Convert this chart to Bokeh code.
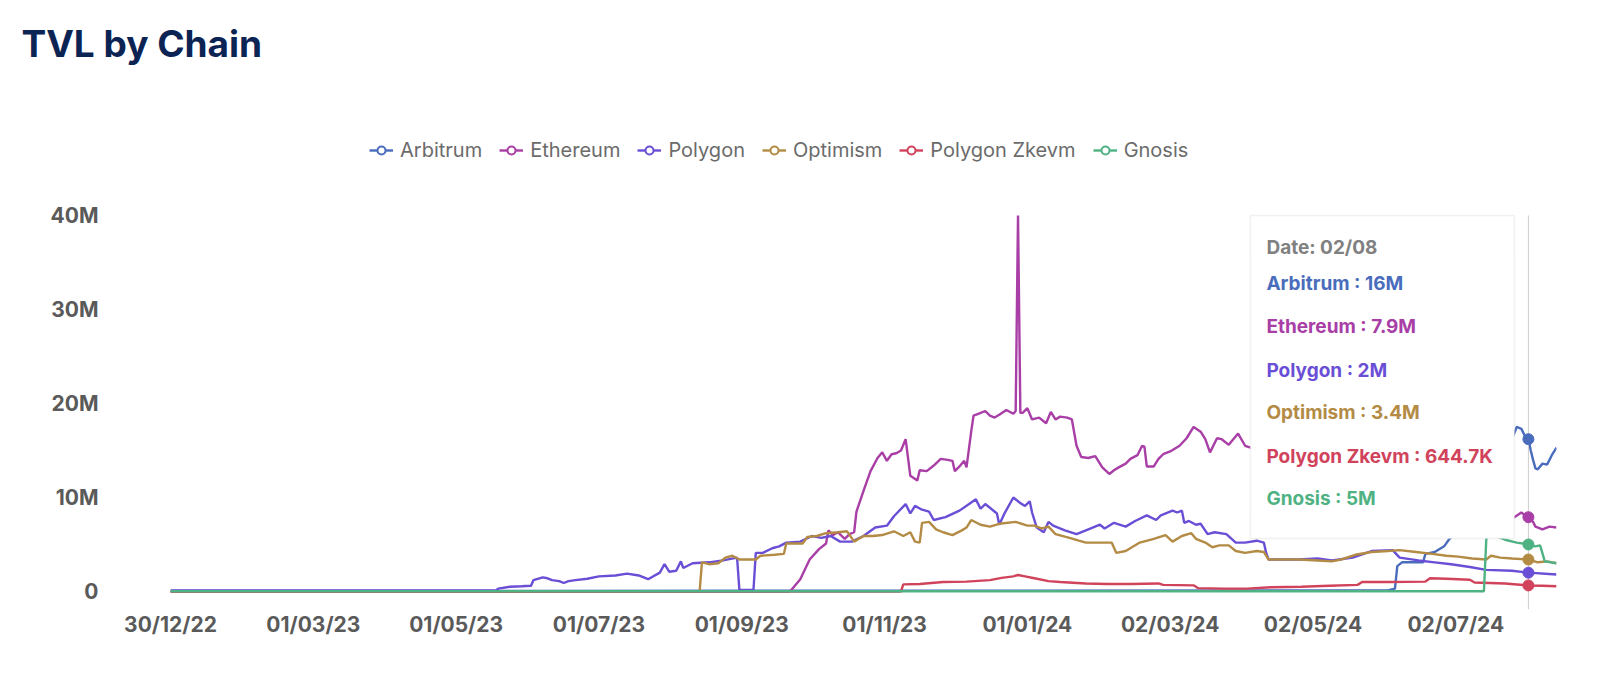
import numpy as np
from bokeh.plotting import figure
from bokeh.models import (FixedTicker, Legend, LegendItem, BoxAnnotation, Label, Range1d)
from bokeh.embed import file_html
from bokeh.resources import INLINE

# ---------------- data (x = day index from 30/12/22, y = TVL in millions) -------------
TICK_IDX = [0, 61, 122, 183, 244, 305, 366, 427, 488, 549]
TICK_LABELS = ["30/12/22", "01/03/23", "01/05/23", "01/07/23", "01/09/23",
               "01/11/23", "01/01/24", "02/03/24", "02/05/24", "02/07/24"]
Y_TICKS = [0, 10, 20, 30, 40]
Y_LABELS = ["0", "10M", "20M", "30M", "40M"]

SERIES = ["Arbitrum", "Ethereum", "Polygon", "Optimism", "Polygon Zkevm", "Gnosis"]
COLORS = ["#4a6cbc", "#a83ea6", "#6a4fd6", "#b38b45", "#d1435b", "#4fb283"]

ARB_X = [0, 520, 523, 524, 526, 535, 536, 540, 544, 546, 548, 552, 556, 560, 564, 568,
         572, 575, 577, 579, 580, 581, 582, 583, 584, 586, 588, 590, 592]
ARB_Y = [0.05, 0.1, 0.3, 2.7, 3.1, 3.1, 4.0, 4.2, 4.8, 5.5, 6.0, 7.0, 9.5, 12.0, 13.5, 15.0,
         15.6, 17.5, 17.3, 16.3, 16.2, 15.0, 14.0, 13.1, 13.0, 13.6, 13.5, 14.5, 15.3]

ETH_X = [0, 264, 265, 269, 273, 277, 280, 281, 283, 285, 288, 290, 292, 293, 296, 299, 302,
         304, 306, 308, 310, 312, 314, 316, 319, 320, 323, 326, 329, 332, 334, 335, 337, 339,
         340, 342, 343, 345, 348, 350, 352, 354, 357, 360, 361, 362, 363, 364, 366, 368, 371,
         374, 376, 378, 380, 383, 385, 387, 389, 392, 395, 398, 401, 403, 405, 408, 410, 413,
         415, 416, 417, 420, 422, 424, 427, 431, 434, 437, 440, 442, 444, 447, 449, 452, 456,
         459, 465, 475, 490, 505, 520, 535, 550, 565, 572, 574, 577, 578, 580, 582, 583, 586,
         589, 592]
ETH_Y = [0, 0, 0.1, 1.3, 3.4, 4.5, 5.1, 6.5, 6.0, 6.3, 5.6, 6.1, 6.3, 8.5, 10.7, 12.8, 14.2,
         14.8, 13.9, 14.6, 14.7, 15.0, 16.2, 12.3, 11.8, 12.9, 12.8, 13.4, 14.1, 14.0, 13.9, 12.8,
         13.3, 13.9, 13.2, 17.0, 18.7, 18.9, 19.2, 18.7, 18.5, 18.8, 19.3, 18.9, 19.2, 40.0, 19.0,
         19.0, 19.5, 18.3, 18.5, 17.9, 19.1, 18.3, 18.6, 18.5, 18.3, 15.5, 14.3, 14.2, 14.4, 13.2,
         12.5, 12.9, 13.2, 13.6, 14.1, 14.5, 15.5, 15.4, 13.3, 13.3, 14.1, 14.6, 14.9, 15.5, 16.3,
         17.5, 17.0, 16.2, 14.8, 16.3, 16.2, 15.6, 16.8, 15.5, 15.0, 14.5, 13.0, 12.0, 11.0, 10.0,
         9.0, 8.2, 7.9, 7.9, 8.4, 8.2, 7.9, 7.4, 6.9, 6.6, 6.9, 6.8]

POLY_X = [0, 139, 140, 145, 150, 154, 155, 159, 161, 163, 166, 168, 170, 173, 178, 183, 190,
          195, 200, 204, 209, 211, 213, 216, 218, 219, 223, 230, 236, 242, 243, 249, 250, 253,
          257, 260, 263, 269, 274, 278, 282, 286, 291, 296, 301, 306, 309, 314, 316, 318, 321,
          324, 326, 331, 337, 344, 346, 348, 353, 354, 356, 360, 363, 365, 367, 368, 370, 373,
          375, 377, 382, 387, 391, 397, 399, 403, 408, 412, 417, 421, 423, 428, 430, 432, 433,
          435, 438, 440, 443, 446, 451, 455, 459, 464, 467, 468, 469, 482, 490, 496, 505, 513,
          522, 525, 533, 540, 547, 555, 562, 573, 580, 592]
POLY_Y = [0.12, 0.1, 0.3, 0.5, 0.55, 0.6, 1.2, 1.5, 1.4, 1.2, 1.1, 0.9, 1.1, 1.2, 1.35, 1.6,
          1.7, 1.9, 1.7, 1.3, 2.0, 2.9, 2.1, 2.2, 3.2, 2.5, 3.0, 3.1, 3.3, 3.6, 0.15, 0.15, 4.1,
          4.1, 4.6, 4.8, 5.2, 5.3, 5.9, 5.7, 5.9, 5.3, 5.3, 5.9, 6.8, 7.0, 8.0, 9.3, 8.3, 9.1,
          8.7, 8.5, 7.6, 7.9, 8.6, 9.8, 8.8, 9.3, 8.3, 7.1, 8.2, 10.0, 9.4, 9.1, 9.6, 8.4, 6.8,
          6.3, 7.4, 7.0, 6.5, 6.1, 6.5, 7.1, 6.7, 7.3, 6.9, 7.5, 8.1, 7.6, 8.1, 8.6, 8.4, 8.6,
          7.3, 7.5, 7.1, 7.2, 6.1, 6.3, 6.1, 5.2, 5.2, 5.4, 5.2, 4.1, 3.4, 3.4, 3.5, 3.3, 3.6,
          4.3, 4.4, 3.6, 3.3, 3.1, 2.9, 2.6, 2.3, 2.2, 2.0, 1.8]

OP_X = [0, 226, 227, 230, 234, 237, 240, 243, 250, 252, 258, 262, 263, 270, 272, 276, 280,
        285, 289, 292, 296, 300, 304, 309, 313, 316, 318, 320, 321, 324, 327, 330, 334, 338,
        340, 342, 346, 350, 354, 361, 366, 369, 372, 375, 378, 384, 388, 391, 397, 402, 404,
        408, 414, 420, 425, 428, 432, 436, 438, 442, 445, 448, 452, 455, 459, 464, 467, 469,
        482, 490, 496, 500, 506, 513, 520, 525, 532, 539, 545, 550, 556, 562, 564, 568, 573,
        580, 584, 588, 592]
OP_Y = [0, 0, 3.1, 2.9, 3.0, 3.6, 3.8, 3.4, 3.4, 3.8, 3.9, 4.0, 5.1, 5.1, 5.8, 5.9, 6.2,
        6.3, 6.4, 5.3, 5.9, 5.9, 6.0, 6.4, 5.9, 6.3, 5.3, 5.2, 7.3, 7.4, 6.6, 6.3, 6.0, 6.5,
        6.8, 7.6, 7.1, 6.9, 7.2, 7.4, 7.0, 7.0, 6.7, 6.9, 6.1, 5.7, 5.4, 5.2, 5.2, 5.2, 4.1,
        4.3, 5.2, 5.6, 6.0, 5.3, 5.9, 6.2, 5.6, 5.2, 4.7, 4.9, 4.9, 4.3, 4.1, 4.3, 4.2, 3.4,
        3.4, 3.3, 3.2, 3.4, 3.9, 4.2, 4.3, 4.4, 4.2, 4.0, 3.8, 3.7, 3.5, 3.4, 3.8, 3.6, 3.5,
        3.4, 3.1, 3.2, 3.0]

ZK_X = [0, 312, 313, 320, 330, 340, 350, 355, 360, 362, 365, 369, 375, 380, 391, 400, 410,
        422, 424, 437, 439, 450, 460, 470, 483, 495, 507, 509, 520, 536, 538, 545, 555, 557,
        570, 580, 586, 592]
ZK_Y = [0, 0, 0.75, 0.8, 1.0, 1.05, 1.2, 1.45, 1.6, 1.75, 1.6, 1.4, 1.1, 1.0, 0.85, 0.8, 0.8,
        0.85, 0.7, 0.65, 0.35, 0.3, 0.3, 0.45, 0.5, 0.6, 0.7, 1.0, 1.0, 1.05, 1.4, 1.35, 1.25,
        0.95, 0.85, 0.64, 0.6, 0.55]

GNO_X = [0, 561, 562, 563, 565, 570, 575, 580, 583, 585, 587, 592]
GNO_Y = [0.02, 0.02, 5.5, 6.5, 6.0, 5.5, 5.2, 5.0, 4.8, 4.9, 3.2, 3.0]

HOVER_IDX = 580
HOVER_DATE = "02/08"
TOOLTIP_VALUES = ["16M", "7.9M", "2M", "3.4M", "644.7K", "5M"]

XS = [ARB_X, ETH_X, POLY_X, OP_X, ZK_X, GNO_X]
YS = [ARB_Y, ETH_Y, POLY_Y, OP_Y, ZK_Y, GNO_Y]

# ---------------- figure geometry ----------------
W, H = 1584, 659
ML, MR, MT, MB = 170, 28, 70, 50
TOP40 = 215                     # canvas y of the 40M level
X0, X1 = 0, 592
Y0, Y40 = -1.92, 40
ppy = (H - MB - TOP40) / (Y40 - Y0)
Y_TOP = Y40 + (TOP40 - MT) / ppy  # frame extends above 40M to hold the legend
ppx = (W - ML - MR) / (X1 - X0)

FONT = "Inter"
p = figure(width=W, height=H, output_backend="svg", toolbar_location=None,
           x_range=Range1d(X0, X1), y_range=Range1d(Y0, Y_TOP),
           min_border_left=ML, min_border_right=MR, min_border_top=MT, min_border_bottom=MB)
p.outline_line_color = None
p.grid.visible = False
p.background_fill_color = "white"
p.border_fill_color = "white"

# axes
p.xaxis.ticker = FixedTicker(ticks=TICK_IDX)
p.xaxis.major_label_overrides = {t: l for t, l in zip(TICK_IDX, TICK_LABELS)}
p.yaxis.ticker = FixedTicker(ticks=Y_TICKS)
p.yaxis.major_label_overrides = {t: l for t, l in zip(Y_TICKS, Y_LABELS)}
for ax in (p.xaxis[0], p.yaxis[0]):
    ax.axis_line_color = None
    ax.major_tick_line_color = None
    ax.minor_tick_line_color = None
    ax.major_label_text_font = FONT
    ax.major_label_text_font_style = "bold"
    ax.major_label_text_font_size = "21px"
    ax.major_label_text_color = "#5a5a5a"
p.yaxis.major_label_standoff = 66
p.xaxis.major_label_standoff = -4

# lines
items = []
for name, c, xs, ys in zip(SERIES, COLORS, XS, YS):
    r = p.line(xs, ys, line_color=c, line_width=2.4)
    m = p.scatter(x=[np.nan], y=[np.nan], marker="circle", size=8, fill_color="white",
                  line_color=c, line_width=2)
    items.append(LegendItem(label=name, renderers=[r, m]))

legend = Legend(items=items, orientation="horizontal",
                location=(199, H - MB - 162),
                glyph_width=24, glyph_height=20, label_standoff=7, spacing=17,
                border_line_color=None, background_fill_alpha=0,
                label_text_font=FONT, label_text_font_size="20px",
                label_text_color="#6b6b6b", padding=0, margin=0)
p.add_layout(legend, "center")

p.title.text = "TVL by Chain"
p.title.text_font = FONT
p.title.text_font_size = "37px"
p.title.text_font_style = "bold"
p.title.text_color = "#0c2454"
p.title.align = "left"
p.title.offset = -149

# tooltip (pointer line, box, texts, dots)
p.segment(x0=[HOVER_IDX], y0=[Y0], x1=[HOVER_IDX], y1=[Y40], line_color="#cccccc", line_width=1)
box = BoxAnnotation(left=HOVER_IDX - 278 / ppx, right=HOVER_IDX - 14 / ppx,
                    top=Y40, bottom=Y40 - 323 / ppy,
                    fill_color="white", fill_alpha=1.0, line_color="#cfcfcf", line_width=1.5)
p.add_layout(box)
lines = ["Date: " + HOVER_DATE] + [f"{n} : {v}" for n, v in zip(SERIES, TOOLTIP_VALUES)]
lcolors = ["#808080"] + COLORS
offsets = [32, 68, 111, 155, 197, 241, 283]
for t, c, off in zip(lines, lcolors, offsets):
    p.add_layout(Label(x=HOVER_IDX, y=Y40, x_offset=-262, y_offset=-off, text=t,
                       text_font=FONT, text_font_style="bold", text_font_size="19px",
                       text_color=c, text_baseline="middle", text_align="left"))

hover_vals = [ys[xs.index(HOVER_IDX)] for xs, ys in zip(XS, YS)]
p.scatter(x=[HOVER_IDX] * len(SERIES), y=hover_vals, marker="circle", size=11,
          fill_color=COLORS, line_color=COLORS)

open("out.html", "w").write(file_html(p, INLINE))
